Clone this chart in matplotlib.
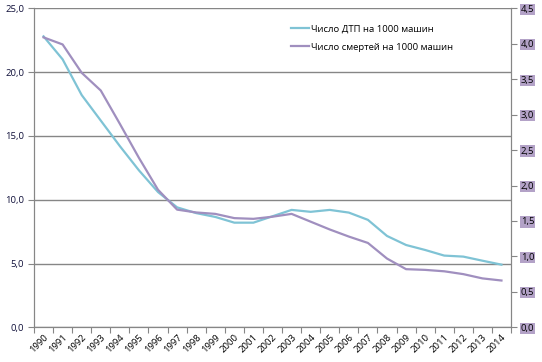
import numpy as np
import matplotlib
matplotlib.use('Agg')
import matplotlib.pyplot as plt

plt.rcParams['font.family'] = ['Open Sans', 'DejaVu Sans']

# data
years = [str(y) for y in range(1990, 2015)]
dtp = [22.8, 21.0, 18.2, 16.2, 14.2, 12.3, 10.6, 9.4, 8.95, 8.65, 8.2, 8.2,
       8.7, 9.2, 9.05, 9.2, 8.99, 8.42, 7.16, 6.45, 6.06, 5.62, 5.54, 5.22, 4.91]
deaths = [4.09, 3.99, 3.59, 3.34, 2.87, 2.39, 1.94, 1.66, 1.62, 1.60, 1.54, 1.53,
          1.56, 1.60, 1.49, 1.38, 1.28, 1.19, 0.97, 0.82, 0.81, 0.79, 0.75, 0.69, 0.66]
left_ticks = [0, 5, 10, 15, 20, 25]
right_ticks = [0, 0.5, 1.0, 1.5, 2.0, 2.5, 3.0, 3.5, 4.0, 4.5]


def fmt(v):
    return ('%.1f' % v).replace('.', ',')


fig = plt.figure(figsize=(5.42, 3.62), dpi=100)
ax1 = fig.add_axes([34/542, 1 - 327.3/362, (511 - 34)/542, (327.3 - 8.3)/362])
ax2 = ax1.twinx()

x = np.arange(len(years))
l1, = ax1.plot(x, dtp, color='#7fc3d5', lw=1.6, label='Число ДТП на 1000 машин')
l2, = ax2.plot(x, deaths, color='#a08fbf', lw=1.6, label='Число смертей на 1000 машин')

ax1.set_xlim(-0.5, len(years) - 0.5)
ax1.set_ylim(0, 25)
ax2.set_ylim(0, 4.5)

ax1.set_yticks(left_ticks)
ax1.set_yticklabels([fmt(v) for v in left_ticks], fontsize=6.8, color='#10103a')
ax2.set_yticks(right_ticks)
ax2.set_yticklabels([fmt(v) for v in right_ticks], fontsize=6.8, color='black')
for lab in ax2.get_yticklabels():
    lab.set_bbox(dict(facecolor='#b3a2c7', edgecolor='none', pad=0.8))

ax1.set_xticks(np.arange(-0.5, len(years), 1), minor=False)
ax1.set_xticklabels([])
ax1.set_xticks(x, minor=True)
ax1.set_xticklabels(years, minor=True, rotation=45, ha='right', rotation_mode='anchor',
                    fontsize=6.8, color='black')
ax1.tick_params(axis='x', which='minor', length=0, pad=4)
ax1.tick_params(axis='x', which='major', length=4, color='#868686')
ax1.tick_params(axis='y', length=4, color='#868686', pad=3)
ax2.tick_params(axis='y', length=4, color='#868686', pad=3)

ax1.grid(axis='y', color='#868686', lw=1)
ax1.set_axisbelow(True)
for a in (ax1, ax2):
    a.spines['top'].set_visible(False)
    a.spines['left'].set_color('#868686')
    a.spines['right'].set_color('#868686')
    a.spines['bottom'].set_color('#868686')

leg = ax2.legend(handles=[l1, l2], loc='upper left', bbox_to_anchor=(0.53, 0.962),
                 frameon=True, fontsize=6.8, handlelength=2.0, handletextpad=0.2,
                 labelspacing=1.0, borderaxespad=0)
leg.get_frame().set_edgecolor('none')
leg.get_frame().set_facecolor('white')
leg.get_frame().set_alpha(1)

fig.savefig('out.png', dpi=100)
